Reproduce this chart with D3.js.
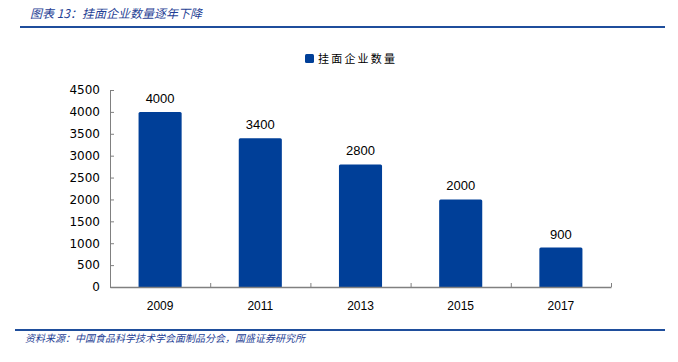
<!DOCTYPE html>
<html>
<head>
<meta charset="utf-8">
<script src="https://cdn.jsdelivr.net/npm/d3@7"></script>
<style>
  body { margin: 0; background: #fff; }
  svg { display: block; }
</style>
</head>
<body>
<div id="chart"></div>
<script>
// data
const years = ["2009", "2011", "2013", "2015", "2017"];
const counts = [4000, 3400, 2800, 2000, 900];
const yTicks = [0, 500, 1000, 1500, 2000, 2500, 3000, 3500, 4000, 4500];

const W = 678, H = 362;
const blue = "#003f98";
const svg = d3.select("#chart").append("svg").attr("width", W).attr("height", H);

// header + footer rules
svg.append("text").attr("x", 30).attr("y", 18)
  .attr("font-family", "'Noto Sans CJK SC', sans-serif").attr("font-size", 12)
  .attr("font-style", "italic").attr("fill", "#1f3f95")
  .text("图表 13：挂面企业数量逐年下降");
svg.append("line").attr("x1", 20).attr("x2", 665).attr("y1", 27).attr("y2", 27)
  .attr("stroke", "#1f4e9c").attr("stroke-width", 2);
svg.append("line").attr("x1", 15).attr("x2", 665).attr("y1", 330).attr("y2", 330)
  .attr("stroke", "#1f4e9c").attr("stroke-width", 2);
svg.append("text").attr("x", 25).attr("y", 342)
  .attr("font-family", "'Noto Sans CJK SC', sans-serif").attr("font-size", 10)
  .attr("font-style", "italic").attr("fill", "#1f3f95")
  .text("资料来源：中国食品科学技术学会面制品分会，国盛证券研究所");

// legend
svg.append("rect").attr("x", 305).attr("y", 54).attr("width", 9).attr("height", 9)
  .attr("rx", 1.5).attr("fill", blue);
svg.append("text").attr("x", 318).attr("y", 63)
  .attr("font-family", "'Noto Sans CJK SC', sans-serif").attr("font-size", 11)
  .attr("letter-spacing", 2.2)
  .attr("fill", "#000").text("挂面企业数量");

// scales
const x = d3.scaleBand().domain(years).range([110, 611]).paddingInner(0.57).paddingOuter(0.285);
const y = d3.scaleLinear().domain([0, 4500]).range([287, 90]);

// bars
svg.selectAll("rect.bar").data(counts).enter().append("rect")
  .attr("class", "bar")
  .attr("x", (d, i) => x(years[i]))
  .attr("y", d => y(d))
  .attr("width", x.bandwidth())
  .attr("height", d => y(0) - y(d) + 1)
  .attr("rx", 1.5)
  .attr("fill", blue);

// axes
const yAxis = svg.append("g").attr("transform", "translate(110,0)")
  .call(d3.axisLeft(y).tickValues(yTicks).tickFormat(d3.format("d"))
    .tickSizeInner(-4).tickSizeOuter(0).tickPadding(10));
yAxis.select(".domain").attr("stroke", "#808080");
yAxis.selectAll(".tick line").attr("stroke", "#808080");
yAxis.selectAll("text").attr("font-family", "'DejaVu Sans', sans-serif").attr("font-size", 12).attr("fill", "#000");

const xLine = d3.scaleLinear().domain([0, years.length]).range([110, 611]);
const xAxis = svg.append("g").attr("transform", "translate(0,287)")
  .call(d3.axisBottom(xLine).ticks(5).tickSizeInner(-4).tickSizeOuter(0).tickFormat(""));
xAxis.select(".domain").attr("stroke", "#808080").attr("stroke-width", 1.5);
xAxis.selectAll(".tick line").attr("stroke", "#808080");

svg.selectAll("text.xl").data(years).enter().append("text")
  .attr("class", "xl")
  .attr("x", d => x(d) + x.bandwidth() / 2).attr("y", 310)
  .attr("text-anchor", "middle")
  .attr("font-family", "'Liberation Sans', sans-serif").attr("font-size", 12)
  .text(d => d);

// value labels
svg.selectAll("text.val").data(counts).enter().append("text")
  .attr("class", "val")
  .attr("x", (d, i) => x(years[i]) + x.bandwidth() / 2)
  .attr("y", d => y(d) - 9)
  .attr("text-anchor", "middle")
  .attr("font-family", "'Liberation Sans', sans-serif").attr("font-size", 13)
  .text(d => d);
</script>
</body>
</html>
